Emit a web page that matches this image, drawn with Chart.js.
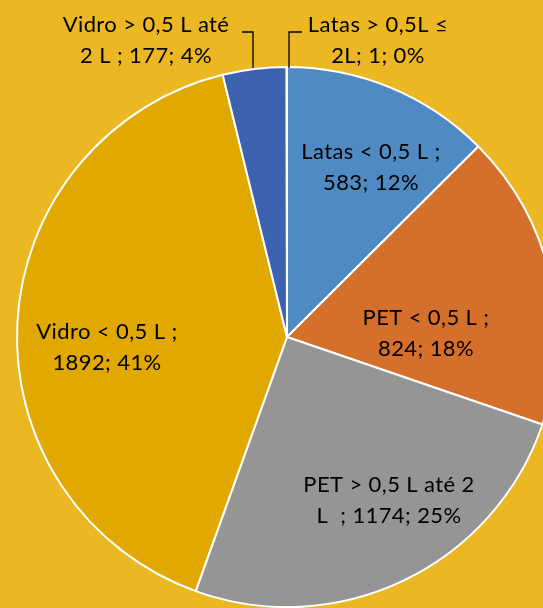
<!DOCTYPE html>
<html><head><meta charset="utf-8">
<script src="https://cdn.jsdelivr.net/npm/chart.js@4"></script>
<style>
html,body{margin:0;padding:0;background:#EBB722;overflow:hidden;width:543px;height:608px;}
#wrap{position:absolute;left:0;top:0;width:580px;height:608px;}
</style></head>
<body>
<div id="wrap"><canvas id="c" width="580" height="608"></canvas></div>
<script>
const categories = ["Latas < 0,5 L", "PET < 0,5 L", "PET > 0,5 L até 2 L", "Vidro < 0,5 L", "Vidro > 0,5 L até 2 L", "Latas > 0,5L ≤ 2L"];
const values = [583, 824, 1174, 1892, 177, 1];
const percents = ["12%", "18%", "25%", "41%", "4%", "0%"];
const labelLines = [
  ["Latas < 0,5 L ;", "583; 12%"],
  ["PET < 0,5 L ;", "824; 18%"],
  ["PET > 0,5 L até 2", "L  ; 1174; 25%"],
  ["Vidro < 0,5 L ;", "1892; 41%"],
  ["Vidro > 0,5 L até", "2 L ; 177; 4%"],
  ["Latas > 0,5L ≤", "2L; 1; 0%"]
];
const colors = ["#4F8BC2", "#D46F2C", "#959595", "#E1A800", "#3C62AF", "#4F8BC2"];

const labelPos = [
  {x:371, y:152}, {x:426, y:318}, {x:389, y:485}, {x:107, y:332}, {x:146, y:25}, {x:378, y:25}
];
const leaders = {
  4: [[242,32],[253,32],[253,68]],
  5: [[302,32],[289,32],[289,68]]
};

const labelPlugin = {
  id:'lbls',
  afterDatasetsDraw(chart){
    const ctx = chart.ctx;
    ctx.save();
    ctx.strokeStyle = '#000';
    ctx.lineWidth = 1.3;
    Object.keys(leaders).forEach(k=>{
      const p = leaders[k];
      ctx.beginPath();
      ctx.moveTo(p[0][0],p[0][1]);
      for(let i=1;i<p.length;i++) ctx.lineTo(p[i][0],p[i][1]);
      ctx.stroke();
    });
    ctx.fillStyle = '#000';
    ctx.font = '22px Lato, "Open Sans", sans-serif';
    try { ctx.letterSpacing = '0.4px'; } catch(e) {}
    ctx.textAlign = 'center';
    ctx.textBaseline = 'middle';
    labelLines.forEach((lines,i)=>{
      const p = labelPos[i];
      lines.forEach((t,j)=>{ ctx.fillText(t, p.x, p.y + j*31); });
    });
    ctx.restore();
  }
};

new Chart(document.getElementById('c'), {
  type:'pie',
  data:{ labels:categories, datasets:[{ data:values, backgroundColor:colors, borderColor:'#ffffff', borderWidth:2 }]},
  options:{
    responsive:false, animation:false,
    layout:{ padding:{ left:16, right:22, top:66, bottom:0 } },
    plugins:{ legend:{display:false}, tooltip:{enabled:false} }
  },
  plugins:[labelPlugin]
});
</script>
</body></html>
